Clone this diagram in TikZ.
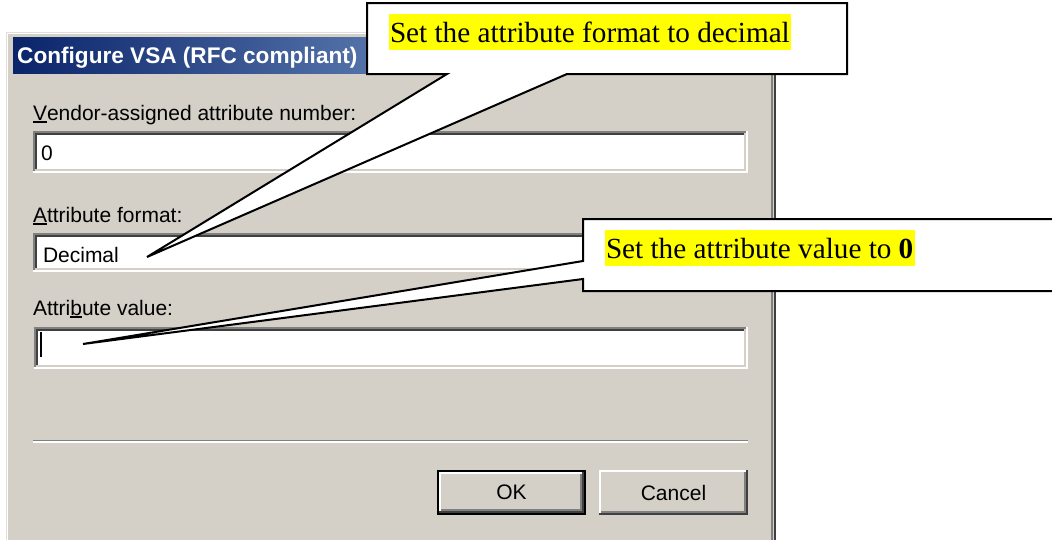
\documentclass[tikz,border=0pt]{standalone}
\usepackage{fontspec}
\setmainfont{Liberation Serif}
\newfontfamily\uifont{Liberation Sans}
\usetikzlibrary{calc}
\definecolor{winface}{HTML}{D4D0C8}
\definecolor{winshadow}{HTML}{808080}
\definecolor{windark}{HTML}{404040}
\definecolor{titleA}{HTML}{0A246A}
\definecolor{titleB}{HTML}{A6CAF0}
\definecolor{hl}{HTML}{FFFF00}
\newcommand\accu[1]{\setbox0\hbox{#1}\rlap{\rule[-3pt]{\wd0}{1.8pt}}\box0}
\newcommand\sunkenfield[4]{%
  \fill[white] (#1,#2) rectangle (#3,#4);
  \draw[winshadow,line width=2pt] ({#1+1},{#4}) -- ({#1+1},{#2+1}) -- ({#3},{#2+1});
  \draw[windark,line width=2pt] ({#1+3},{#4-2}) -- ({#1+3},{#2+3}) -- ({#3-2},{#2+3});
  \draw[white,line width=2pt] ({#1},{#4-1}) -- ({#3-1},{#4-1}) -- ({#3-1},{#2});
  \draw[winface,line width=2pt] ({#1+2},{#4-3}) -- ({#3-3},{#4-3}) -- ({#3-3},{#2+2});
}
\newcommand\raisedbutton[4]{%
  \fill[winface] (#1,#2) rectangle (#3,#4);
  \draw[white,line width=2pt] ({#1+1},{#4-1}) -- ({#1+1},{#2+1}) -- ({#3-1},{#2+1});
  \draw[windark,line width=2pt] ({#1},{#4-1}) -- ({#3-1},{#4-1}) -- ({#3-1},{#2});
  \draw[winshadow,line width=2pt] ({#1+2},{#4-3}) -- ({#3-3},{#4-3}) -- ({#3-3},{#2+2});
}
\tikzset{
  ui/.style={font=\uifont\fontsize{21}{25}\selectfont, inner sep=0pt, outer sep=0pt, text=black},
  titletext/.style={font=\uifont\bfseries\fontsize{22.6}{26}\selectfont, inner sep=0pt, text=white},
  calltext/.style={font=\fontsize{29.2}{34}\selectfont, fill=hl, inner xsep=1.5pt, inner ysep=0pt,
    text height=28pt, text depth=8pt, outer sep=0pt},
  callbox/.style={draw=none, inner sep=0pt, outer sep=0pt},
  callout/.style={draw=black, line width=2pt, fill=white, line join=miter},
}
\begin{document}
\begin{tikzpicture}[x=1pt,y=-1pt]
\useasboundingbox (0,0) rectangle (1052,539);
\clip (0,0) rectangle (1052,539);
\fill[white] (0,0) rectangle (1052,539);
% dialog frame
\fill[winface] (6,32) rectangle (776,560);
\draw[winface!70!white,line width=1pt] (6.5,560) -- (6.5,32.5) -- (776,32.5);
\draw[white,line width=1pt] (7.5,560) -- (7.5,33.5) -- (775,33.5);
\draw[winshadow,line width=2pt] (772,34) -- (772,560);
\draw[windark,line width=2pt] (775,32) -- (775,560);
% title bar
\shade[left color=titleA, right color=titleB] (13,37) rectangle (770,73);
\node[titletext, anchor=base west] (title) at (17,63) {Configure VSA (RFC compliant)};
% labels and fields
\node[ui, anchor=base west] (lab1) at (33,120) {\accu{V}endor-assigned attribute number:};
\sunkenfield{33}{131}{748}{173}
\node[ui, anchor=base west] (val1) at (41,160) {0};
\node[ui, anchor=base west] (lab2) at (33,222) {\accu{A}ttribute format:};
\sunkenfield{33}{233}{748}{272}
\node[ui, anchor=base west] (val2) at (43,262) {Decimal};
\node[ui, anchor=base west] (lab3) at (33,315) {Attri\accu{b}ute value:};
\sunkenfield{34}{327}{748}{369}
\draw[black,line width=2pt] (41,332) -- (41,357);
% separator
\draw[winshadow,line width=1.5pt] (33,440.5) -- (748,440.5);
\draw[white,line width=1.5pt] (33,442) -- (748,442);
% buttons
\fill[black] (437,470) rectangle (586,515);
\raisedbutton{439}{472}{584}{513}
\node[ui] (ok) at (511.5,492.5) {OK};
\raisedbutton{599}{470}{748}{515}
\node[ui] (cancel) at (673.5,492.5) {Cancel};
% callout 1
\node[callbox, anchor=north west, minimum width=480pt, minimum height=71pt] (c1) at (367,3) {};
\coordinate (tip1) at (147,257);
\draw[callout] (c1.south west) -- (c1.north west) -- (c1.north east) -- (c1.south east)
  -- ($(c1.south west)+(200,0)$) -- (tip1) -- ($(c1.south west)+(80,0)$) -- cycle;
\node[calltext, anchor=base west] (t1) at (388.5,42) {Set the attribute format to decimal};
% callout 2
\node[callbox, anchor=north west, minimum width=480pt, minimum height=72pt] (c2) at (583,219) {};
\coordinate (tip2) at (83,344);
\draw[callout] ($(c2.north west)+(0,42)$) -- (c2.north west) -- (c2.north east) -- (c2.south east)
  -- (c2.south west) -- ($(c2.north west)+(0,60)$) -- (tip2) -- cycle;
\node[calltext, anchor=base west] (t2) at (604.5,258) {Set the attribute value to \textbf{0}};
\end{tikzpicture}
\end{document}
